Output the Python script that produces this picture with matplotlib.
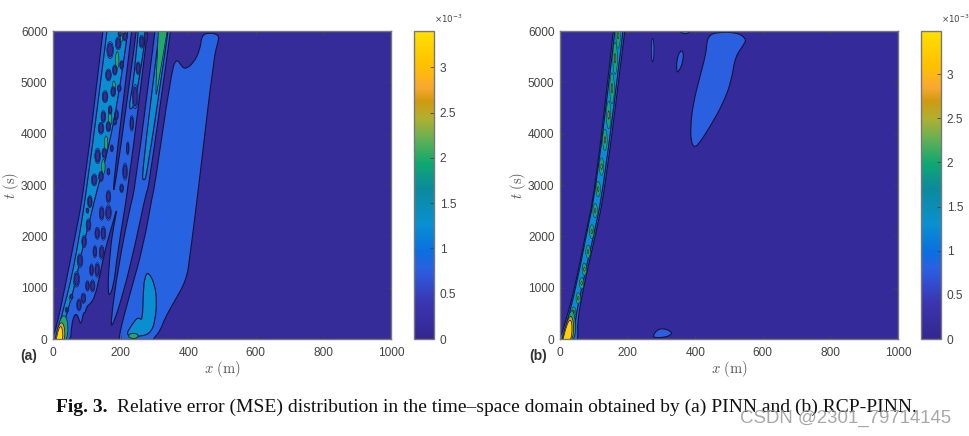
#!/usr/bin/env python3
"""
Relative error (MSE) maps for PINN and RCP-PINN, contours read off the figure
"""

import matplotlib
matplotlib.use('Agg')
import matplotlib.pyplot as plt
from matplotlib.cm import ScalarMappable
from matplotlib.colors import LinearSegmentedColormap, Normalize
from matplotlib.patches import Ellipse, PathPatch
from matplotlib.path import Path

W, H = 969, 436

x_ticks = [0, 200, 400, 600, 800, 1000]
t_ticks = [0, 1000, 2000, 3000, 4000, 5000, 6000]
cbar_ticks = [0, 0.5, 1, 1.5, 2, 2.5, 3]
cbar_labels = ['0', '0.5', '1', '1.5', '2', '2.5', '3']

# colour stops (value in 1e-3, colour)
stop_values = [0, 0.4, 0.7, 0.8, 1.0, 1.3, 1.7, 2.0, 2.3, 2.5, 2.7, 2.85, 3.1, 3.49]
stop_colors = ['#33268f', '#3a35b0', '#2f55d8', '#2a60e0', '#0a70e0', '#0a90d0', '#0c8a9c',
               '#10a870', '#70b050', '#b0b030', '#d09a10', '#f8a830', '#ffc000', '#ffe000']

# contour levels used for the filled regions
level_bg = 0.12
level_1 = 0.8
level_2 = 1.25
level_3 = 2.0
level_4 = 2.7
level_5 = 3.3

# panel (a): band with the blobs, joined with the second band
a_main_x = [-8, 3, 15, 35, 65, 92, 148, 150, 281, 280, 222, 192, 178, 160, 169, 180, 192, 175, 154, 139,
            124, 110, 100, 95, 90, 83, 75, 68, 60, 54, 52, -8]
a_main_t = [-60, 78, 370, 993, 1987, 2903, 6000, 6150, 6150, 6000, 2903, 1734, 955, 800, 1734, 2221, 2610,
            2221, 1734, 1247, 818, 680, 640, 500, 520, 260, 420, 500, 420, 200, -60, -60]
a_main2_x = [15, 30, 50, 71, 100, 160, 162, 222, 222, 192, 163, 130, 109, 86, 65, 44, 27]
a_main2_t = [175, 565, 1052, 1734, 2903, 6000, 6150, 6150, 6000, 4656, 3682, 2903, 2318, 1734, 1052, 565, 175]
a_gap_x = [233, 235, 248, 247, 183, 176]
a_gap_t = [6000, 6150, 6150, 6000, 2904, 2904]
a_band2_x = [252, 253, 276, 275, 262, 249, 238, 223, 236, 245]
a_band2_t = [5954, 6150, 6150, 5954, 5370, 4851, 4494, 4475, 4916, 5500]

# panel (a): third band
a_band3_x = [170, 193, 228, 242, 302, 304, 350, 348, 282, 277, 242, 208, 176]
a_band3_t = [300, 1410, 2579, 2903, 6000, 6150, 6150, 6000, 2904, 2903, 1800, 891, 240]
a_band3b_x = [262, 315, 316, 342, 341, 277, 269]
a_band3b_t = [3164, 6000, 6150, 6150, 6000, 3164, 3080]
a_band3c_x = [302, 312, 312, 342, 338, 312]
a_band3c_t = [4600, 6000, 6200, 6200, 6000, 5000]

# panel (a): large region on the right
a_big_x = [440, 464, 491, 489, 476, 430, 405, 395, 356, 331, 316, 302, 290, 198, 194, 228, 267, 297, 299, 351,
           366, 381, 392, 415, 435]
a_big_t = [5922, 5970, 5922, 5792, 5500, 2904, 1605, 1150, 696, 404, 145, 50, -80, -80, 50, 891, 1800, 2903,
           2904, 5240, 5468, 5305, 5260, 5370, 5630]
a_big2_x = [282, 302, 307, 302, 292, 267, 213, 233, 252, 265, 267, 272]
a_big2_t = [1313, 1053, 696, 372, 145, 50, 50, 275, 437, 339, 956, 1216]

# panel (a): near the origin
a_green_x = [4, 24, 44, 44, 4]
a_green_t = [-60, 480, 420, -60, -60]
a_orange_x = [5, 18, 34, 36, 5]
a_orange_t = [-60, 330, 300, -60, -60]
a_yellow_x = [8, 18, 28, 30, 8]
a_yellow_t = [-60, 250, 230, -60, -60]
a_corner_x = [-10, -10, 10]
a_corner_t = [-60, 130, -60]

# panel (a): dark holes, (x, t, width, height)
a_hole_x = [169, 193, 213, 198, 164, 183, 203, 154, 178, 196, 149, 169, 188, 142, 164, 183, 132, 152, 174, 122,
            142, 164, 252, 243, 233, 221, 213, 203, 262, 275, 164, 144, 149, 131, 144, 124, 131, 114, 117,
            102, 90, 77, 109, 102, 105, 92, 80, 70, 55, 42, 164]
a_hole_t = [5630, 5760, 5890, 5954, 5143, 5240, 5338, 4721, 4819, 4884, 4332, 4462, 4364, 4105, 4137, 4234, 3566,
            3618, 3715, 3099, 3164, 3261, 5273, 4721, 4202, 3715, 3261, 2936, 5792, 5890, 2462, 2449, 2059,
            2059, 1689, 1702, 1345, 1345, 1034, 1034, 794, 664, 2676, 2501, 2221, 1897, 1527, 1164, 826, 567,
            2773]
a_hole_w = [14, 12, 10, 8, 12, 10, 8, 12, 10, 8, 10, 8, 8, 12, 10, 8, 12, 10, 6, 12, 10, 6, 10, 12, 8, 6, 10, 8,
            10, 8, 12, 10, 10, 10, 10, 8, 10, 8, 10, 8, 10, 10, 10, 6, 10, 10, 12, 12, 6, 6, 10]
a_hole_h = [260, 195, 130, 104, 182, 156, 130, 182, 156, 104, 182, 130, 156, 182, 156, 104, 234, 156, 104, 182,
            156, 104, 195, 364, 234, 195, 260, 130, 195, 195, 234, 208, 208, 182, 208, 182, 221, 182, 182, 156,
            156, 182, 182, 78, 182, 182, 208, 234, 78, 65, 195]

# panel (a): green streaks between the holes
a_streak_x = [190, 180, 169, 157, 149, 203, 65, 52, 40]
a_streak_t = [5435, 4884, 4300, 3813, 3358, 5890, 1091, 800, 565]
a_streak_w = [10, 10, 10, 10, 10, 8, 8, 8, 8]
a_streak_h = [325, 286, 286, 286, 286, 195, 110, 100, 100]

# panel (b): the narrow band
b_band_x = [-10, 2, 15, 44, 74, 104, 158, 160, 194, 192, 133, 104, 69, 51, 54, 49, 0]
b_band_t = [-80, 47, 307, 1001, 1994, 2904, 6000, 6150, 6150, 6000, 2904, 1994, 1001, 307, 80, -80, -80]
b_band2_x = [8, 20, 47, 77, 106, 163, 164, 188, 187, 128, 99, 64, 43, 41, 8]
b_band2_t = [-60, 307, 1001, 1994, 2904, 6000, 6150, 6150, 6000, 2904, 1994, 1001, 307, -60, -60]
b_green_x = [4, 18, 36, 48, 42, 4]
b_green_t = [-60, 300, 640, 300, -60, -60]
b_orange_x = [5, 18, 33, 42, 36, 5]
b_orange_t = [-60, 300, 500, 260, -60, -60]
b_yellow_x = [7, 20, 31, 37, 32, 7]
b_yellow_t = [-60, 280, 400, 240, -60, -60]
b_corner_x = [-10, -10, 10]
b_corner_t = [-60, 130, -60]

# panel (b): streak along the band, (x, t, width, height)
b_streak_x = [172, 163, 154, 144, 133, 123, 113, 104, 94, 83, 72, 64, 54, 41, 32]
b_streak_t = [5922, 5468, 4884, 4364, 3878, 3358, 2920, 2501, 2092, 1702, 1358, 1086, 794, 534, 307]
b_streak_w = [13, 13, 13, 13, 13, 13, 13, 13, 13, 13, 13, 13, 13, 12, 12]
b_streak_h = [520, 620, 600, 540, 420, 340, 300, 280, 270, 260, 240, 220, 220, 180, 150]

# panel (b): separate regions
b_big_x = [439, 458, 523, 550, 547, 518, 508, 483, 444, 409, 396, 388, 386, 394, 414, 432, 434]
b_big_t = [5890, 5974, 5974, 5857, 5760, 5500, 5046, 4591, 4137, 3780, 3735, 3845, 4137, 4591, 5111, 5565, 5760]
b_mid_x = [345, 345, 355, 366, 363, 350]
b_mid_t = [5208, 5435, 5617, 5597, 5370, 5195]
b_top_x = [353, 362, 375, 387, 387, 353]
b_top_t = [6000, 5955, 5940, 6000, 6150, 6150]
b_low_x = [274, 286, 306, 330, 330, 306, 281]
b_low_t = [47, 177, 210, 145, 80, 28, 28]
b_sliver_x = [274]
b_sliver_t = [5630]
b_sliver_w = [8]
b_sliver_h = [455]

cap_bold = 'Fig. 3.'
cap_text = 'Relative error (MSE) distribution in the time\u2013space domain obtained by (a) PINN and (b) RCP-PINN.'
watermark = 'CSDN @2301_79714145'

EDGE = '#14143c'
TEXT = '#444444'


def px_axes(fig, left, right, top, bottom):
    """Axes from pixel edges of the figure"""
    return fig.add_axes([left / W, 1 - bottom / H, (right - left) / W, (bottom - top) / H])


def make_cmap():
    stops = [(v / stop_values[-1], c) for v, c in zip(stop_values, stop_colors)]
    return LinearSegmentedColormap.from_list('err', stops, N=512)


def region(ax, xs, ts, level, cmap, norm, lw=0.8):
    """Closed region with rounded outline, quadratic curves through midpoints"""
    pts = list(zip(xs, ts))
    n = len(pts)
    mid = [((pts[i][0] + pts[(i + 1) % n][0]) / 2, (pts[i][1] + pts[(i + 1) % n][1]) / 2) for i in range(n)]
    verts = [mid[-1]]
    codes = [Path.MOVETO]
    for i in range(n):
        verts += [pts[i], mid[i]]
        codes += [Path.CURVE3, Path.CURVE3]
    ax.add_patch(PathPatch(Path(verts, codes), facecolor=cmap(norm(level)), edgecolor=EDGE, linewidth=lw))


def ellipses(ax, xs, ts, ws, hs, level, cmap, norm, lw=0.6):
    for x, t, w, h in zip(xs, ts, ws, hs):
        ax.add_patch(Ellipse((x, t), w, h, facecolor=cmap(norm(level)), edgecolor=EDGE, linewidth=lw))


def style_axes(ax, cmap, norm):
    ax.set_facecolor(cmap(norm(level_bg)))
    ax.set_xlim(0, 1000)
    ax.set_ylim(0, 6000)
    ax.set_xticks(x_ticks)
    ax.set_yticks(t_ticks)
    ax.tick_params(direction='in', length=3, width=0.6, colors=TEXT, labelsize=8.6, top=True, right=True)
    ax.tick_params(axis='x', pad=6)
    ax.tick_params(axis='y', pad=4)
    for spine in ax.spines.values():
        spine.set_color('#777777')
        spine.set_linewidth(1.0)
        spine.set_zorder(10)
    ax.set_xlabel(r'$x\ \mathrm{(m)}$', fontsize=10.5, color='#555555', labelpad=0)
    ax.set_ylabel(r'$t\ \mathrm{(s)}$', fontsize=10.5, color='#555555', labelpad=0)


def colorbar(fig, cax, cmap, norm):
    cb = fig.colorbar(ScalarMappable(norm=norm, cmap=cmap), cax=cax)
    cb.set_ticks(cbar_ticks)
    cb.set_ticklabels(cbar_labels)
    cax.tick_params(direction='in', length=3, width=0.6, colors=TEXT, labelsize=8.6, pad=4)
    cb.outline.set_edgecolor('#777777')
    cb.outline.set_linewidth(1.0)


def draw_a(ax, cmap, norm):
    region(ax, a_main_x, a_main_t, level_1, cmap, norm)
    region(ax, a_main2_x, a_main2_t, level_2, cmap, norm)
    region(ax, a_band2_x, a_band2_t, level_2, cmap, norm)
    region(ax, a_gap_x, a_gap_t, level_bg, cmap, norm)
    region(ax, a_band3_x, a_band3_t, level_1, cmap, norm)
    region(ax, a_band3b_x, a_band3b_t, level_2, cmap, norm)
    region(ax, a_band3c_x, a_band3c_t, level_3, cmap, norm, lw=0.5)
    region(ax, a_big_x, a_big_t, level_1, cmap, norm)
    region(ax, a_big2_x, a_big2_t, level_2, cmap, norm)
    ax.add_patch(Ellipse((238, 60), 28, 100, facecolor=cmap(norm(level_3)), edgecolor=EDGE, linewidth=0.6))

    # blobs: a blue rim first, the dark core on top of it
    ellipses(ax, a_streak_x, a_streak_t, a_streak_w, a_streak_h, level_3, cmap, norm, lw=0.4)
    rim_w = [w * 1.4 for w in a_hole_w]
    rim_h = [h * 1.3 for h in a_hole_h]
    ellipses(ax, a_hole_x, a_hole_t, rim_w, rim_h, level_1, cmap, norm, lw=0.4)
    ellipses(ax, a_hole_x, a_hole_t, a_hole_w, a_hole_h, level_bg, cmap, norm, lw=0.5)

    region(ax, a_green_x, a_green_t, level_3, cmap, norm, lw=0.5)
    region(ax, a_orange_x, a_orange_t, level_4, cmap, norm, lw=0.5)
    region(ax, a_yellow_x, a_yellow_t, level_5, cmap, norm, lw=0.5)
    ax.fill(a_corner_x, a_corner_t, color='#111111', linewidth=0)


def draw_b(ax, cmap, norm):
    region(ax, b_band_x, b_band_t, level_1, cmap, norm)
    region(ax, b_band2_x, b_band2_t, level_2, cmap, norm)
    ellipses(ax, b_streak_x, b_streak_t, b_streak_w, b_streak_h, level_3, cmap, norm, lw=0.3)
    core_w = [w * 0.32 for w in b_streak_w]
    core_h = [h * 0.3 for h in b_streak_h]
    ellipses(ax, b_streak_x, b_streak_t, core_w, core_h, level_4, cmap, norm, lw=0.4)

    region(ax, b_green_x, b_green_t, level_3, cmap, norm, lw=0.5)
    region(ax, b_orange_x, b_orange_t, level_4, cmap, norm, lw=0.5)
    region(ax, b_yellow_x, b_yellow_t, level_5, cmap, norm, lw=0.5)
    ax.fill(b_corner_x, b_corner_t, color='#111111', linewidth=0)

    region(ax, b_big_x, b_big_t, level_1, cmap, norm)
    region(ax, b_mid_x, b_mid_t, level_1, cmap, norm)
    region(ax, b_top_x, b_top_t, level_1, cmap, norm)
    region(ax, b_low_x, b_low_t, level_1, cmap, norm)
    ellipses(ax, b_sliver_x, b_sliver_t, b_sliver_w, b_sliver_h, level_1, cmap, norm)


def main():
    plt.rcParams['font.family'] = ['Liberation Sans', 'DejaVu Sans']
    plt.rcParams['mathtext.fontset'] = 'cm'

    fig = plt.figure(figsize=(W / 100, H / 100), dpi=100, facecolor='white')
    cmap = make_cmap()

    # Panel (a)
    norm_a = Normalize(0, 3.4)
    ax_a = px_axes(fig, 53, 391, 31, 339)
    style_axes(ax_a, cmap, norm_a)
    draw_a(ax_a, cmap, norm_a)
    colorbar(fig, px_axes(fig, 414, 434, 31, 339), cmap, norm_a)

    # Panel (b)
    norm_b = Normalize(0, 3.49)
    ax_b = px_axes(fig, 560, 898, 31, 339)
    style_axes(ax_b, cmap, norm_b)
    draw_b(ax_b, cmap, norm_b)
    colorbar(fig, px_axes(fig, 921, 941, 31, 339), cmap, norm_b)

    # Exponents and panel letters
    exp_style = dict(fontsize=6.2, color=TEXT, math_fontfamily='dejavusans')
    fig.text(434 / W, 1 - 23 / H, r'$\times 10^{-3}$', **exp_style)
    fig.text(941 / W, 1 - 23 / H, r'$\times 10^{-3}$', **exp_style)
    fig.text(20 / W, 1 - 360 / H, '(a)', fontsize=10, fontweight='bold', color='#333333')
    fig.text(529 / W, 1 - 360 / H, '(b)', fontsize=10, fontweight='bold', color='#333333')

    # Caption and watermark
    fig.text(56 / W, 1 - 412 / H, cap_bold, fontsize=14, fontweight='bold', family='Liberation Serif', color='#111111')
    fig.text(117 / W, 1 - 412 / H, cap_text, fontsize=14, family='Liberation Serif', color='#111111')
    fig.text(740 / W, 1 - 423 / H, watermark, fontsize=13.4, family='Liberation Sans', color='#999999', alpha=0.85)

    fig.savefig('out.png', dpi=100)


if __name__ == '__main__':
    main()
